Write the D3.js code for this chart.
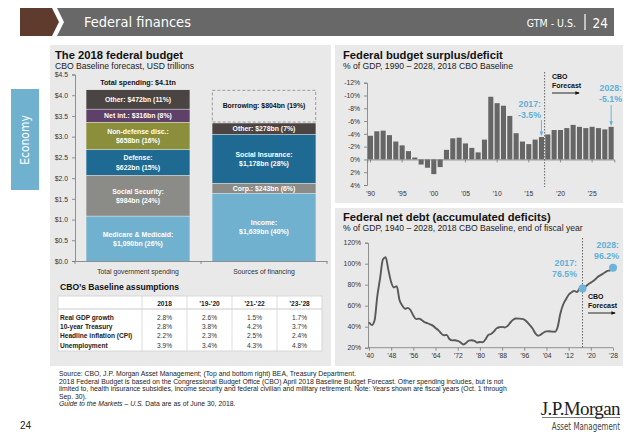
<!DOCTYPE html>
<html>
<head>
<meta charset="utf-8">
<script src="https://cdn.jsdelivr.net/npm/d3@7"></script>
<style>
  body { margin: 0; background: #fff; }
  svg text { font-family: "Liberation Sans", Arial, sans-serif; }
  svg text.cond { font-family: "DejaVu Sans Condensed", "DejaVu Sans", sans-serif; font-stretch: condensed; }
  svg text.serif { font-family: "Liberation Serif", "DejaVu Serif", serif; }
  .axis text { font-size: 6.8px; fill: #333; }
  .axis path, .axis line { stroke: #777; stroke-width: 0.8; }
</style>
</head>
<body>
<svg id="chart" width="629" height="440"></svg>
<script>
// ---- data ----
const budgetBars = ["Total government spending", "Sources of financing"];
const spendingNames = ["Medicare & Medicaid", "Social Security", "Defense", "Non-defense disc.", "Net int.", "Other"];
const spendingBn = [1090, 984, 622, 658, 316, 472];
const spendingPct = [26, 24, 15, 16, 8, 11];
const financingNames = ["Income", "Corp.", "Social Insurance", "Other", "Borrowing"];
const financingBn = [1639, 243, 1178, 278, 804];
const financingPct = [40, 6, 28, 7, 19];
const totalSpendingLabel = "Total spending: $4.1tn";

const tableCols = ["2018", "’19-’20", "’21-’22", "’23-’28"];
const tableRows = ["Real GDP growth", "10-year Treasury", "Headline inflation (CPI)", "Unemployment"];
const tableValues = [
  [2.8, 2.6, 1.5, 1.7],
  [2.8, 3.8, 4.2, 3.7],
  [2.2, 2.3, 2.5, 2.4],
  [3.9, 3.4, 4.3, 4.8]
];

const deficitYears = d3.range(1990, 2029);
const deficitPct = [-3.7, -4.4, -4.5, -3.8, -2.8, -2.2, -1.3, -0.3, 0.8, 1.3,
  2.3, 1.2, -1.5, -3.3, -3.4, -2.5, -1.8, -1.1, -3.1, -9.8,
  -8.8, -8.4, -6.8, -4.1, -2.8, -2.4, -3.1, -3.5, -3.9, -4.6,
  -4.6, -4.9, -5.4, -5.1, -4.9, -5.1, -4.9, -4.7, -5.1];

const debtYears = d3.range(1940, 2029);
const debtPct = [44.2, 41.5, 45.9, 69.2, 86.1, 103.9, 106.1, 93.9, 82.4, 77.4,
  78.6, 65.5, 60.1, 57.1, 57.9, 55.7, 50.6, 47.2, 47.7, 46.4,
  44.3, 43.5, 42.3, 41.0, 38.7, 36.7, 33.7, 31.8, 32.2, 28.3,
  27.0, 27.1, 26.4, 25.1, 23.1, 24.5, 26.7, 27.1, 26.6, 24.9,
  25.5, 25.2, 27.9, 32.1, 33.1, 35.3, 38.4, 39.5, 39.8, 39.3,
  40.8, 44.0, 46.6, 47.8, 47.7, 47.5, 46.8, 44.5, 41.6, 38.2,
  33.6, 31.4, 32.5, 34.5, 35.5, 35.6, 35.3, 35.2, 39.3, 52.3,
  60.9, 65.9, 70.4, 72.6, 74.1, 72.9, 76.4, 76.5, 78.0, 80.2,
  82.0, 83.7, 86.2, 88.4, 89.8, 91.6, 93.1, 93.7, 96.2];

const sourceLines = [
  "Source: CBO, J.P. Morgan Asset Management; (Top and bottom right) BEA, Treasury Department.",
  "2018 Federal Budget is based on the Congressional Budget Office (CBO) April 2018 Baseline Budget Forecast. Other spending includes, but is not",
  "limited to, health insurance subsidies, income security and federal civilian and military retirement. Note: Years shown are fiscal years (Oct. 1 through",
  "Sep. 30)."
];

// ---- styles ----
const segColor = {
  "Medicare & Medicaid": "#70b1cf", "Income": "#70b1cf",
  "Social Security": "#8b8b87", "Corp.": "#8b8b87",
  "Defense": "#1e6a93", "Social Insurance": "#1e6a93",
  "Non-defense disc.": "#8b8e3a",
  "Net int.": "#5e4068",
  "Other": "#4a4442"
};
const twoLine = new Set(["Medicare & Medicaid", "Social Security", "Defense", "Non-defense disc.", "Social Insurance", "Income"]);
const blue = "#62b0d8";

const svg = d3.select("#chart");

const defs = svg.append("defs");
defs.append("marker").attr("id", "arrK")
  .attr("viewBox", "0 0 10 10").attr("refX", 8).attr("refY", 5)
  .attr("markerWidth", 5).attr("markerHeight", 5).attr("orient", "auto")
  .append("path").attr("d", "M0,1 L10,5 L0,9 z").attr("fill", "#111");
defs.append("marker").attr("id", "arrB")
  .attr("viewBox", "0 0 10 10").attr("refX", 8).attr("refY", 5)
  .attr("markerWidth", 5).attr("markerHeight", 5).attr("orient", "auto")
  .append("path").attr("d", "M0,1 L10,5 L0,9 z").attr("fill", blue);

// ===== header =====
svg.append("path").attr("d", "M20,8 L52,8 L59,22 L52,36 L20,36 Z").attr("fill", "#5f3b2d");
svg.append("path").attr("d", "M57,8 L614,8 L614,36 L57,36 L64,22 Z").attr("fill", "#686868");
svg.append("text").attr("class", "cond").attr("x", 84).attr("y", 27)
  .attr("fill", "#fff").attr("font-size", 14.5).text("Federal finances");
svg.append("text").attr("class", "cond").attr("x", 576).attr("y", 27)
  .attr("text-anchor", "end").attr("fill", "#fff").attr("font-size", 10.5).text("GTM - U.S.");
svg.append("line").attr("x1", 585).attr("x2", 585).attr("y1", 14).attr("y2", 30)
  .attr("stroke", "#fff").attr("stroke-width", 1.2);
svg.append("text").attr("class", "cond").attr("x", 608).attr("y", 27.5)
  .attr("text-anchor", "end").attr("fill", "#fff").attr("font-size", 13.5).text("24");

// side tab
svg.append("rect").attr("x", 11).attr("y", 89).attr("width", 28).attr("height", 101).attr("fill", "#6fb1cf");
svg.append("text").attr("class", "cond").attr("transform", "translate(29,140) rotate(-90)")
  .attr("text-anchor", "middle").attr("fill", "#fff").attr("font-size", 12).text("Economy");

// panels
svg.append("rect").attr("x", 50).attr("y", 45).attr("width", 281).attr("height", 321).attr("fill", "#e9e9e9");
svg.append("rect").attr("x", 335).attr("y", 45).attr("width", 288).attr("height", 158).attr("fill", "#e9e9e9");
svg.append("rect").attr("x", 335).attr("y", 208).attr("width", 288).attr("height", 158).attr("fill", "#e9e9e9");

function title(x, y, t, s) {
  svg.append("text").attr("x", x).attr("y", y).attr("font-size", 11.2).attr("font-weight", "bold").attr("fill", "#111").text(t);
  svg.append("text").attr("x", x).attr("y", y + 10).attr("font-size", 8.6).attr("fill", "#222").text(s);
}
title(55, 58.5, "The 2018 federal budget", "CBO Baseline forecast, USD trillions");
title(343, 59, "Federal budget surplus/deficit", "% of GDP, 1990 – 2028, 2018 CBO Baseline");
title(343, 220.5, "Federal net debt (accumulated deficits)", "% of GDP, 1940 – 2028, 2018 CBO Baseline, end of fiscal year");

// ===== left: stacked budget =====
const yB = d3.scaleLinear().domain([0, 4.5]).range([261, 74.5]);
const xB = d3.scaleBand().domain(budgetBars).range([75, 327]).paddingInner(0.18).paddingOuter(0.09);

function stackSegs(bar, names, bn, pct) {
  let c = 0;
  return names.map((n, i) => {
    const s = { bar, name: n, bn: bn[i], pct: pct[i], y0: c, y1: c + bn[i] / 1000 };
    c = s.y1;
    return s;
  });
}
const segs = stackSegs(budgetBars[0], spendingNames, spendingBn, spendingPct)
  .concat(stackSegs(budgetBars[1], financingNames, financingBn, financingPct));

const gB = svg.append("g");
gB.selectAll("rect.seg")
  .data(segs)
  .join("rect")
  .attr("class", "seg")
  .attr("x", d => xB(d.bar))
  .attr("y", d => yB(d.y1) + (d.name === "Borrowing" ? 1 : 0.6))
  .attr("width", xB.bandwidth())
  .attr("height", d => yB(d.y0) - yB(d.y1) - (d.name === "Borrowing" ? 1.6 : 0.6))
  .attr("fill", d => d.name === "Borrowing" ? "none" : segColor[d.name])
  .attr("stroke", d => d.name === "Borrowing" ? "#9a9a9a" : "none")
  .attr("stroke-dasharray", "3,2");

const fmtBn = d3.format(",");
segs.forEach(d => {
  const cx = xB(d.bar) + xB.bandwidth() / 2;
  const cy = (yB(d.y0) + yB(d.y1)) / 2;
  const val = "$" + fmtBn(d.bn) + "bn (" + d.pct + "%)";
  const t = gB.append("text").attr("x", cx).attr("text-anchor", "middle")
    .attr("font-size", 6.9).attr("font-weight", "bold")
    .attr("fill", d.name === "Borrowing" ? "#111" : "#fff");
  if (twoLine.has(d.name)) {
    t.attr("y", cy - 1.8);
    t.append("tspan").attr("x", cx).text(d.name + ":");
    t.append("tspan").attr("x", cx).attr("dy", 9.2).text(val);
  } else {
    t.attr("y", cy + 2.5).text(d.name + ": " + val);
  }
});
gB.append("text").attr("x", xB(budgetBars[0]) + xB.bandwidth() / 2).attr("y", 85)
  .attr("text-anchor", "middle").attr("font-size", 7.2).attr("font-weight", "bold").attr("fill", "#111")
  .text(totalSpendingLabel);

gB.append("g").attr("class", "axis").attr("transform", "translate(75,0)")
  .call(d3.axisLeft(yB).tickValues(d3.range(0, 4.51, 0.5)).tickFormat(d3.format("$.1f")).tickSize(3).tickPadding(4));
const xAxB = gB.append("g").attr("class", "axis").attr("transform", "translate(0,261)")
  .call(d3.axisBottom(xB).tickSize(0).tickPadding(8));
xAxB.selectAll("text").attr("font-size", 6.9).attr("fill", "#222");
gB.selectAll("line.btick")
  .data([xB.range()[0], xB.range()[0] + xB.step(), xB.range()[1]])
  .join("line").attr("class", "btick")
  .attr("x1", d => d).attr("x2", d => d).attr("y1", 261).attr("y2", 264)
  .attr("stroke", "#777").attr("stroke-width", 0.8);

// ===== table =====
const gT = svg.append("g");
gT.append("text").attr("x", 60).attr("y", 290).attr("font-size", 8.6).attr("font-weight", "bold").attr("fill", "#111")
  .text("CBO’s Baseline assumptions");
const colEdges = [58, 142, 187, 232, 277, 322];
gT.append("rect").attr("x", 58).attr("y", 296).attr("width", 264).attr("height", 55)
  .attr("fill", "#fff").attr("stroke", "#cfcfcf").attr("stroke-width", 0.8);
gT.append("line").attr("x1", 58).attr("x2", 322).attr("y1", 309).attr("y2", 309).attr("stroke", "#bdbdbd").attr("stroke-width", 0.8);
gT.selectAll("line.col").data(colEdges.slice(1, 5)).join("line").attr("class", "col")
  .attr("x1", d => d).attr("x2", d => d).attr("y1", 296).attr("y2", 351)
  .attr("stroke", "#d4d4d4").attr("stroke-width", 0.8);
gT.selectAll("text.hd").data(tableCols).join("text").attr("class", "hd")
  .attr("x", (d, i) => (colEdges[i + 1] + colEdges[i + 2]) / 2).attr("y", 306)
  .attr("text-anchor", "middle").attr("font-size", 6.6).attr("font-weight", "bold").attr("fill", "#222").text(d => d);
tableRows.forEach((r, i) => {
  const y = 319.5 + i * 9.45;
  gT.append("text").attr("x", 60).attr("y", y).attr("font-size", 6.6).attr("font-weight", "bold").attr("fill", "#222").text(r);
  tableValues[i].forEach((v, j) => {
    gT.append("text").attr("x", (colEdges[j + 1] + colEdges[j + 2]) / 2).attr("y", y)
      .attr("text-anchor", "middle").attr("font-size", 6.6).attr("fill", "#333").text(v.toFixed(1) + "%");
  });
});

// ===== top right: deficit bars =====
const yD = d3.scaleLinear().domain([-12, 4]).range([82.7, 185]);
const xD = d3.scaleBand().domain(deficitYears).range([367.3, 614.3]).paddingInner(0.2).paddingOuter(0.1);
const gD = svg.append("g");
gD.selectAll("rect")
  .data(deficitYears.map((y, i) => ({ year: y, v: deficitPct[i] })))
  .join("rect")
  .attr("x", d => xD(d.year))
  .attr("y", d => Math.min(yD(0), yD(d.v)))
  .attr("width", xD.bandwidth())
  .attr("height", d => Math.abs(yD(d.v) - yD(0)))
  .attr("fill", "#666");
gD.append("g").attr("class", "axis").attr("transform", "translate(367,0)")
  .call(d3.axisLeft(yD).tickValues(d3.range(-12, 5, 2)).tickFormat(d => d + "%").tickSize(3).tickPadding(4));
gD.append("g").attr("class", "axis").attr("transform", `translate(0,${yD(0)})`)
  .call(d3.axisBottom(xD).tickValues([1990, 1995, 2000, 2005, 2010, 2015, 2020, 2025])
    .tickFormat(d => "’" + String(d).slice(2)).tickSize(3).tickPadding(28.5))
  .call(g => g.select(".domain").attr("stroke", "#555"));

const splitX = (xD(2017) + xD.bandwidth() + xD(2018)) / 2;
gD.append("line").attr("x1", splitX).attr("x2", splitX).attr("y1", 72).attr("y2", 187)
  .attr("stroke", "#555").attr("stroke-width", 0.9).attr("stroke-dasharray", "1.5,1.5");
function forecastNote(g, x, y) {
  g.append("text").attr("x", x).attr("y", y).attr("font-size", 7).attr("font-weight", "bold").attr("fill", "#111").text("CBO");
  g.append("text").attr("x", x).attr("y", y + 8.5).attr("font-size", 7).attr("font-weight", "bold").attr("fill", "#111").text("Forecast");
  g.append("line").attr("x1", x).attr("x2", x + 27).attr("y1", y + 14).attr("y2", y + 14)
    .attr("stroke", "#111").attr("stroke-width", 0.9).attr("marker-end", "url(#arrK)");
}
forecastNote(gD, 552, 79);
function blueNote(g, x, y, l1, l2) {
  g.append("text").attr("x", x).attr("y", y).attr("text-anchor", "end").attr("font-size", 8.8).attr("font-weight", "bold").attr("fill", blue).text(l1);
  g.append("text").attr("x", x).attr("y", y + 10.5).attr("text-anchor", "end").attr("font-size", 8.8).attr("font-weight", "bold").attr("fill", blue).text(l2);
}
blueNote(gD, 541, 107, "2017:", "-3.5%");
blueNote(gD, 622, 91, "2028:", "-5.1%");
const c17 = xD(2017) + xD.bandwidth() / 2, c28 = xD(2028) + xD.bandwidth() / 2;
gD.append("line").attr("x1", c17).attr("x2", c17).attr("y1", 120).attr("y2", yD(-3.5) - 2)
  .attr("stroke", blue).attr("stroke-width", 0.9).attr("marker-end", "url(#arrB)");
gD.append("line").attr("x1", c28).attr("x2", c28).attr("y1", 105).attr("y2", yD(-5.1) - 2)
  .attr("stroke", blue).attr("stroke-width", 0.9).attr("marker-end", "url(#arrB)");

// ===== bottom right: net debt =====
const yN = d3.scaleLinear().domain([20, 120]).range([347.7, 242.7]);
const xN = d3.scaleLinear().domain([1940, 2028]).range([369, 613]);
const gN = svg.append("g");
gN.append("g").attr("class", "axis").attr("transform", "translate(368,0)")
  .call(d3.axisLeft(yN).tickValues(d3.range(20, 121, 20)).tickFormat(d => d + "%").tickSize(3).tickPadding(4));
gN.append("g").attr("class", "axis").attr("transform", "translate(0,347.7)")
  .call(d3.axisBottom(xN).tickValues(d3.range(1940, 2029, 8))
    .tickFormat(d => "’" + String(d).slice(2)).tickSize(3).tickPadding(2))
  .call(g => g.select(".domain").attr("d", "M368,0H613"));
const xSplit = xN(2017);
gN.append("line").attr("x1", xSplit).attr("x2", xSplit).attr("y1", 238).attr("y2", 347.7)
  .attr("stroke", "#555").attr("stroke-width", 0.9).attr("stroke-dasharray", "1.5,1.5");
gN.append("path")
  .datum(debtYears.map((y, i) => [y, debtPct[i]]))
  .attr("fill", "none").attr("stroke", "#595959").attr("stroke-width", 1.9)
  .attr("d", d3.line().x(d => xN(d[0])).y(d => yN(d[1])).curve(d3.curveMonotoneX));
gN.selectAll("circle")
  .data([[2017, debtPct[debtYears.indexOf(2017)]], [2028, debtPct[debtYears.indexOf(2028)]]])
  .join("circle")
  .attr("cx", d => xN(d[0])).attr("cy", d => yN(d[1])).attr("r", 4).attr("fill", "#6cb4da");
blueNote(gN, 577, 266, "2017:", "76.5%");
blueNote(gN, 619, 248, "2028:", "96.2%");
forecastNote(gN, 588, 299);

// ===== footer =====
const gF = svg.append("g").attr("fill", "#222").attr("font-size", 6.85);
sourceLines.forEach((s, i) => {
  gF.append("text").attr("x", 59).attr("y", 376 + i * 7.6).text(s);
});
const gl = gF.append("text").attr("x", 59).attr("y", 376 + 4 * 7.6);
gl.append("tspan").attr("font-style", "italic").text("Guide to the Markets – U.S.");
gl.append("tspan").text(" Data are as of June 30, 2018.");

svg.append("text").attr("x", 20).attr("y", 429).attr("font-size", 10).attr("fill", "#222").text("24");
svg.append("text").attr("class", "serif").attr("x", 620).attr("y", 415).attr("text-anchor", "end")
  .attr("font-size", 19).attr("fill", "#222").attr("letter-spacing", -0.6)
  .text("J.P.Morgan");
svg.append("line").attr("x1", 542).attr("x2", 620).attr("y1", 417.5).attr("y2", 417.5).attr("stroke", "#222").attr("stroke-width", 0.6);
// condensed look: squeeze horizontally
svg.append("text").attr("class", "cond").attr("transform", "translate(620,430) scale(0.75,1)")
  .attr("text-anchor", "end").attr("font-size", 10.5).attr("fill", "#444").text("Asset Management");
</script>
</body>
</html>
